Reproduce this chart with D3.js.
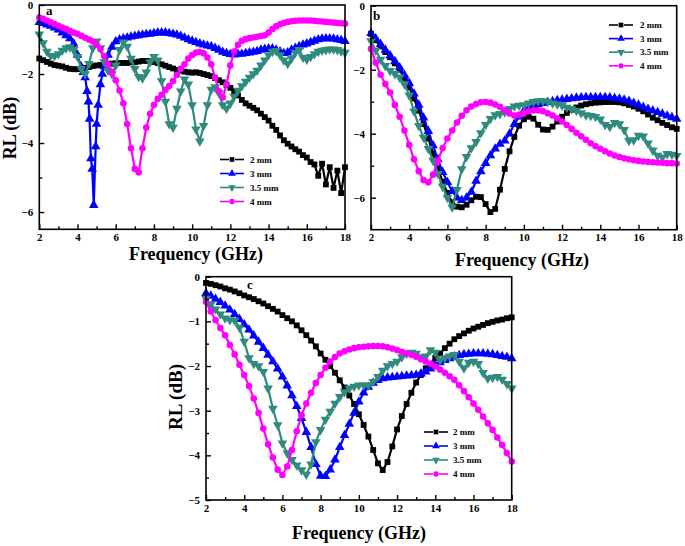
<!DOCTYPE html>
<html><head><meta charset="utf-8">
<script src="https://cdn.jsdelivr.net/npm/d3@7"></script>
<style>
body{margin:0;background:#fff}
svg{display:block}
text{font-family:"Liberation Serif","Times New Roman",serif;font-weight:bold;fill:#000}
</style>
</head><body>
<svg id="chart" width="685" height="546"></svg>
<script>
// ---------------- DATA ----------------
const seriesNames = ["2 mm", "3 mm", "3.5 mm", "4 mm"];
const xTickLabels = [2, 4, 6, 8, 10, 12, 14, 16, 18];
const yTicksAB = [0, -2, -4, -6];
const yTicksC = [0, -1, -2, -3, -4, -5];

// frequency sampling grids (GHz)
const freqA = d3.range(81).map(i => +(2 + i * 0.2).toFixed(2));
const freqA3 = [...freqA.filter(f => f < 4.25),
  4.3, 4.4, 4.5, 4.57, 4.63, 4.7, 4.77, 4.85, 4.95, 5.0, 5.08, 5.2, 5.3,
  ...freqA.filter(f => f > 5.35)];
const freqBC = d3.range(65).map(i => 2 + i * 0.25);

// Panel a
const a2mm = [-1.55,-1.6,-1.65,-1.7,-1.74,-1.76,-1.78,-1.82,-1.85,-1.86,
  -1.86,-1.84,-1.82,-1.8,-1.77,-1.75,-1.74,-1.72,-1.7,-1.7,
  -1.69,-1.68,-1.68,-1.68,-1.66,-1.66,-1.64,-1.62,-1.62,-1.63,
  -1.65,-1.68,-1.72,-1.76,-1.8,-1.84,-1.88,-1.9,-1.93,-1.95,
  -1.96,-1.95,-1.97,-2.0,-2.03,-2.06,-2.12,-2.18,-2.24,-2.32,
  -2.4,-2.5,-2.62,-2.75,-2.85,-2.92,-2.98,-3.05,-3.15,-3.25,
  -3.35,-3.5,-3.62,-3.78,-3.92,-4.02,-4.1,-4.18,-4.25,-4.35,
  -4.42,-4.55,-4.62,-4.95,-4.6,-5.2,-4.7,-5.3,-4.8,-5.45,
  -4.7];
const a3mm = [-0.5,-0.53,-0.57,-0.61,-0.66,-0.72,-0.8,-0.88,-0.97,-1.12,-1.45,-1.8,
  -1.95,-2.1,-2.5,-2.8,-3.3,-4.45,-4.75,-5.8,-4.1,-3.45,-2.9,-2.3,-2.0,
  -1.78,-1.45,-1.22,-1.06,-1.0,-0.97,-0.95,-0.92,-0.9,-0.88,
  -0.86,-0.85,-0.84,-0.82,-0.8,-0.8,-0.8,-0.82,-0.84,-0.86,
  -0.9,-0.95,-1.0,-1.04,-1.08,-1.12,-1.15,-1.18,-1.2,-1.25,
  -1.3,-1.36,-1.4,-1.43,-1.44,-1.42,-1.42,-1.4,-1.38,-1.36,
  -1.34,-1.3,-1.28,-1.26,-1.26,-1.3,-1.35,-1.4,-1.38,-1.3,
  -1.25,-1.2,-1.15,-1.12,-1.08,-1.04,-1.0,-0.98,-0.97,-0.97,
  -0.98,-1.0,-1.02,-1.05];
const a35mm = [-0.85,-1.1,-1.35,-1.47,-1.47,-1.42,-1.32,-1.25,-1.22,-1.3,
  -1.5,-1.85,-2.0,-1.7,-1.25,-1.05,-1.25,-1.65,-1.9,-2.0,
  -1.75,-1.3,-1.08,-1.2,-1.55,-1.85,-2.08,-2.12,-1.95,-1.65,
  -1.5,-1.6,-2.2,-2.8,-3.45,-3.55,-3.0,-2.5,-2.15,-2.3,
  -2.9,-3.6,-3.95,-3.5,-2.9,-2.45,-2.38,-2.55,-2.9,-3.0,
  -2.85,-2.65,-2.48,-2.35,-2.22,-2.1,-2.0,-1.9,-1.75,-1.6,
  -1.45,-1.35,-1.33,-1.45,-1.6,-1.7,-1.55,-1.38,-1.3,-1.52,
  -1.58,-1.5,-1.42,-1.35,-1.32,-1.3,-1.28,-1.28,-1.3,-1.34,
  -1.38];
const a4mm = [-0.36,-0.4,-0.45,-0.5,-0.55,-0.6,-0.65,-0.7,-0.75,-0.8,
  -0.84,-0.89,-0.95,-1.0,-1.06,-1.15,-1.28,-1.48,-1.72,-1.95,
  -2.18,-2.48,-2.85,-3.45,-4.15,-4.75,-4.85,-4.15,-3.55,-3.15,
  -2.9,-2.72,-2.6,-2.46,-2.35,-2.2,-2.03,-1.85,-1.72,-1.55,
  -1.45,-1.38,-1.36,-1.4,-1.52,-1.72,-2.1,-2.5,-2.68,-2.3,
  -1.75,-1.35,-1.15,-1.04,-0.99,-0.96,-0.94,-0.92,-0.9,-0.88,
  -0.8,-0.7,-0.62,-0.56,-0.52,-0.49,-0.47,-0.46,-0.45,-0.45,
  -0.45,-0.45,-0.46,-0.47,-0.48,-0.49,-0.5,-0.51,-0.52,-0.53,
  -0.54];

// Panel b
const b2mm = [-0.88,-1.08,-1.27,-1.45,-1.61,-1.8,-2.0,-2.27,
  -2.55,-2.9,-3.28,-3.7,-4.15,-4.62,-5.08,-5.5,
  -5.85,-6.15,-6.28,-6.3,-6.22,-6.08,-5.97,-5.98,
  -6.2,-6.45,-6.35,-5.75,-5.1,-4.55,-4.1,-3.75,
  -3.55,-3.47,-3.53,-3.72,-3.87,-3.88,-3.78,-3.62,
  -3.47,-3.35,-3.25,-3.18,-3.12,-3.08,-3.05,-3.03,
  -3.02,-3.01,-3.01,-3.01,-3.02,-3.05,-3.1,-3.15,
  -3.22,-3.3,-3.4,-3.5,-3.58,-3.66,-3.73,-3.8,
  -3.85];
const b3mm = [-0.86,-1.03,-1.2,-1.38,-1.56,-1.74,-1.93,-2.17,
  -2.42,-2.75,-3.1,-3.5,-3.92,-4.37,-4.8,-5.2,
  -5.52,-5.8,-6.0,-6.08,-6.0,-5.82,-5.48,-5.18,
  -4.92,-4.68,-4.47,-4.32,-4.22,-4.0,-3.7,-3.47,
  -3.28,-3.2,-3.14,-3.09,-3.05,-3.02,-2.99,-2.96,
  -2.94,-2.92,-2.9,-2.88,-2.87,-2.86,-2.86,-2.86,
  -2.86,-2.86,-2.87,-2.89,-2.91,-2.94,-2.98,-3.04,
  -3.1,-3.17,-3.23,-3.28,-3.33,-3.38,-3.44,-3.49,
  -3.54];
const b35mm = [-1.1,-1.4,-1.68,-1.88,-2.03,-2.13,-2.24,-2.45,
  -2.8,-3.3,-3.75,-4.12,-4.47,-4.84,-5.25,-5.65,
  -6.0,-6.3,-5.75,-5.1,-4.72,-4.45,-4.25,-3.98,
  -3.72,-3.53,-3.42,-3.38,-3.33,-3.22,-3.14,-3.12,
  -3.1,-3.05,-3.0,-2.98,-2.98,-3.0,-3.05,-3.08,
  -3.12,-3.18,-3.23,-3.28,-3.35,-3.42,-3.44,-3.47,
  -3.55,-3.72,-3.78,-3.66,-3.7,-3.88,-4.22,-4.2,
  -4.06,-4.08,-4.3,-4.52,-4.68,-4.74,-4.63,-4.65,
  -4.69];
const b4mm = [-1.35,-1.78,-2.16,-2.45,-2.71,-3.1,-3.47,-3.9,
  -4.35,-4.8,-5.17,-5.45,-5.52,-5.28,-4.85,-4.45,
  -4.15,-3.9,-3.65,-3.44,-3.27,-3.15,-3.07,-3.02,
  -3.01,-3.03,-3.09,-3.16,-3.27,-3.37,-3.43,-3.41,
  -3.35,-3.3,-3.27,-3.27,-3.3,-3.36,-3.43,-3.52,
  -3.62,-3.73,-3.85,-3.97,-4.08,-4.19,-4.3,-4.39,
  -4.47,-4.55,-4.62,-4.68,-4.73,-4.77,-4.8,-4.83,
  -4.85,-4.87,-4.88,-4.89,-4.9,-4.91,-4.92,-4.92,
  -4.93];

// Panel c
const c2mm = [-0.14,-0.16,-0.19,-0.22,-0.26,-0.29,-0.33,-0.37,
  -0.42,-0.46,-0.5,-0.55,-0.6,-0.66,-0.72,-0.78,
  -0.86,-0.93,-1.0,-1.09,-1.2,-1.31,-1.43,-1.56,
  -1.72,-1.86,-2.0,-2.15,-2.32,-2.48,-2.66,-2.85,
  -3.08,-3.32,-3.58,-3.88,-4.18,-4.33,-4.15,-3.8,
  -3.42,-3.12,-2.85,-2.6,-2.37,-2.2,-2.05,-1.95,
  -1.82,-1.72,-1.6,-1.5,-1.4,-1.33,-1.27,-1.21,
  -1.16,-1.12,-1.08,-1.04,-1.01,-0.98,-0.96,-0.93,
  -0.91];
const c3mm = [-0.37,-0.43,-0.5,-0.57,-0.65,-0.74,-0.84,-0.95,
  -1.07,-1.19,-1.32,-1.46,-1.6,-1.75,-1.9,-2.06,
  -2.24,-2.44,-2.66,-2.9,-3.17,-3.48,-3.82,-4.2,
  -4.46,-4.47,-4.32,-4.1,-3.82,-3.55,-3.3,-3.05,
  -2.8,-2.6,-2.47,-2.38,-2.32,-2.28,-2.26,-2.25,
  -2.24,-2.23,-2.22,-2.21,-2.2,-2.17,-2.13,-2.06,
  -1.98,-1.92,-1.87,-1.83,-1.79,-1.76,-1.74,-1.73,
  -1.72,-1.72,-1.72,-1.73,-1.74,-1.76,-1.78,-1.8,
  -1.83];
const c35mm = [-0.49,-0.62,-0.73,-0.84,-0.93,-0.97,-0.98,-1.14,
  -1.45,-1.82,-1.95,-2.0,-2.13,-2.5,-2.95,-3.32,
  -3.73,-3.95,-4.1,-4.22,-4.33,-4.43,-4.2,-3.7,
  -3.43,-3.2,-3.02,-2.84,-2.69,-2.58,-2.5,-2.46,
  -2.43,-2.43,-2.43,-2.35,-2.24,-2.1,-2.0,-1.95,
  -1.9,-1.8,-1.72,-1.7,-1.72,-1.8,-1.78,-1.64,
  -1.7,-1.87,-1.82,-1.78,-1.75,-1.9,-2.05,-1.92,
  -1.9,-1.95,-2.15,-2.28,-2.26,-2.24,-2.3,-2.4,
  -2.5];
const c4mm = [-0.56,-0.78,-0.97,-1.15,-1.31,-1.53,-1.74,-1.97,
  -2.2,-2.45,-2.73,-3.05,-3.4,-3.75,-4.05,-4.32,
  -4.44,-4.25,-3.88,-3.46,-3.1,-2.84,-2.6,-2.38,
  -2.2,-2.04,-1.9,-1.8,-1.72,-1.67,-1.63,-1.6,
  -1.58,-1.57,-1.56,-1.55,-1.55,-1.56,-1.58,-1.61,
  -1.64,-1.68,-1.72,-1.75,-1.79,-1.85,-1.9,-1.95,
  -2.01,-2.08,-2.15,-2.23,-2.31,-2.43,-2.56,-2.7,
  -2.84,-2.98,-3.13,-3.28,-3.43,-3.6,-3.77,-3.95,
  -4.14];

// ---------------- STYLE / LAYOUT ----------------
const colors = ["#000000", "#0000ff", "#2e8b7d", "#ff00ff"];
const symbols = [d3.symbolSquare, d3.symbolTriangle, d3.symbolTriangle, d3.symbolCircle];
const symSizes = [34, 40, 40, 34];
const legSizes = [22, 26, 26, 22];
const symRot = [0, 0, 180, 0];

const panels = [
  { label: "a", left: 39.3, right: 345, top: 5, bottom: 229.3, yMin: -6.5,
    yMajor: yTicksAB, yMinor: [-1, -3, -5],
    series: [[freqA, a2mm], [freqA3, a3mm], [freqA, a35mm], [freqA, a4mm]],
    legend: { x: 220, y: 159.5, dy: 14, tx: 250 },
    tag: { x: 46, y: 15 }, xTitle: { x: 196, y: 260 }, yTitle: { x: 16, y: 128, size: 18 } },
  { label: "b", left: 371, right: 676.7, top: 5.7, bottom: 229.7, yMin: -7,
    yMajor: yTicksAB, yMinor: [-1, -3, -5],
    series: [[freqBC, b2mm], [freqBC, b3mm], [freqBC, b35mm], [freqBC, b4mm]],
    legend: { x: 609, y: 25, dy: 13.6, tx: 640 },
    tag: { x: 373, y: 20 }, xTitle: { x: 522, y: 266 }, yTitle: null },
  { label: "c", left: 206, right: 511.7, top: 276.7, bottom: 500, yMin: -5,
    yMajor: yTicksC, yMinor: [-0.5, -1.5, -2.5, -3.5, -4.5],
    series: [[freqBC, c2mm], [freqBC, c3mm], [freqBC, c35mm], [freqBC, c4mm]],
    legend: { x: 424, y: 432, dy: 14, tx: 453 },
    tag: { x: 247, y: 289 }, xTitle: { x: 359, y: 539 }, yTitle: { x: 182, y: 397, size: 19 } }
];

const svg = d3.select("#chart");

panels.forEach(p => {
  const x = d3.scaleLinear().domain([2, 18]).range([p.left, p.right]);
  const y = d3.scaleLinear().domain([p.yMin, 0]).range([p.bottom, p.top]);
  const g = svg.append("g");

  // series
  p.series.forEach(([fx, vals], i) => {
    const pts = vals.map((v, k) => [fx[k], v]);
    g.append("path")
      .attr("d", d3.line().x(d => x(d[0])).y(d => y(d[1]))(pts))
      .attr("fill", "none").attr("stroke", colors[i]).attr("stroke-width", 2.2)
      .attr("stroke-linejoin", "round");
    const sym = d3.symbol().type(symbols[i]).size(symSizes[i]);
    g.selectAll(null).data(pts).enter().append("path")
      .attr("d", sym)
      .attr("transform", d => `translate(${x(d[0])},${y(d[1])}) rotate(${symRot[i]})`)
      .attr("fill", colors[i]);
  });

  // frame
  g.append("rect").attr("x", p.left).attr("y", p.top)
    .attr("width", p.right - p.left).attr("height", p.bottom - p.top)
    .attr("fill", "none").attr("stroke", "#000").attr("stroke-width", 1.6);

  // axes
  g.append("g").attr("transform", `translate(0,${p.bottom})`)
    .call(d3.axisBottom(x).tickValues(xTickLabels).tickSize(-5).tickPadding(4).tickFormat(d3.format("d")));
  g.append("g").attr("transform", `translate(0,${p.bottom})`)
    .call(d3.axisBottom(x).tickValues([3,5,7,9,11,13,15,17]).tickSize(-3).tickFormat(""));
  g.append("g").attr("transform", `translate(${p.left},0)`)
    .call(d3.axisLeft(y).tickValues(p.yMajor).tickSize(-5).tickPadding(6).tickFormat(d3.format("d")));
  g.append("g").attr("transform", `translate(${p.left},0)`)
    .call(d3.axisLeft(y).tickValues(p.yMinor).tickSize(-3).tickFormat(""));
  g.selectAll(".domain").remove();
  g.selectAll(".tick line").attr("stroke", "#000").attr("stroke-width", 1.4);
  g.selectAll(".tick text").attr("font-size", 11)
    .attr("font-family", "'Liberation Serif','Times New Roman',serif").attr("font-weight", "bold");

  // panel tag
  g.append("text").attr("x", p.tag.x).attr("y", p.tag.y).attr("font-size", 13).text(p.label);

  // titles
  g.append("text").attr("x", p.xTitle.x).attr("y", p.xTitle.y).attr("text-anchor", "middle")
    .attr("font-size", 18).text("Frequency (GHz)");
  if (p.yTitle) {
    g.append("text").attr("transform", `translate(${p.yTitle.x},${p.yTitle.y}) rotate(-90)`)
      .attr("text-anchor", "middle").attr("font-size", p.yTitle.size).text("RL (dB)");
  }

  // legend
  seriesNames.forEach((name, i) => {
    const ly = p.legend.y + i * p.legend.dy;
    const lx = p.legend.x;
    g.append("line").attr("x1", lx).attr("x2", lx + 9).attr("y1", ly).attr("y2", ly)
      .attr("stroke", colors[i]).attr("stroke-width", 1.6);
    g.append("line").attr("x1", lx + 15).attr("x2", lx + 24).attr("y1", ly).attr("y2", ly)
      .attr("stroke", colors[i]).attr("stroke-width", 1.6);
    g.append("path").attr("d", d3.symbol().type(symbols[i]).size(legSizes[i])())
      .attr("transform", `translate(${lx + 12},${ly}) rotate(${symRot[i]})`).attr("fill", colors[i]);
    g.append("text").attr("x", p.legend.tx).attr("y", ly + 3.2).attr("font-size", 9).text(name);
  });
});
</script>
</body></html>
